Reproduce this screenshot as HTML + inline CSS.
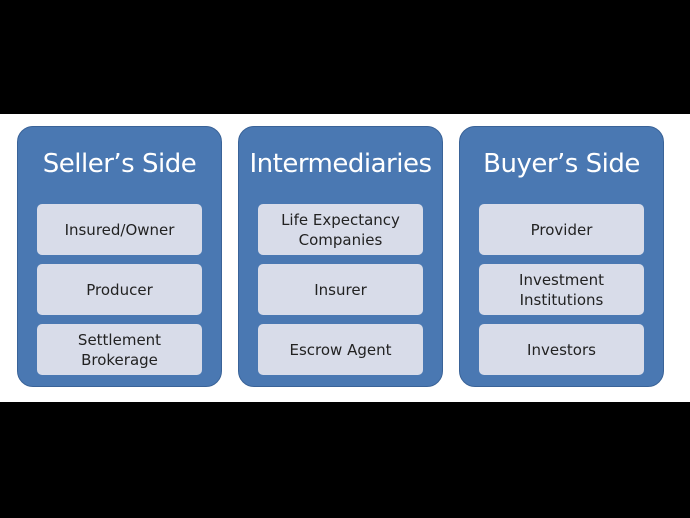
<!DOCTYPE html>
<html><head><style>
body{margin:0;width:690px;height:518px;background:#000;position:relative;overflow:hidden;font-family:"DejaVu Sans","Liberation Sans",sans-serif}
.band{position:absolute;left:0;top:114px;width:690px;height:288px;background:#fff}
.p{position:absolute;top:126px;width:203px;height:259px;background:#4a78b2;border:1px solid #3a6398;border-radius:16px}
.t{position:absolute;top:22px;left:0;width:100%;text-align:center;color:#fff;font-size:26px;letter-spacing:-0.5px}
.b{position:absolute;left:19px;width:165px;height:51px;background:#d8dce9;border-radius:5px;display:flex;align-items:center;justify-content:center;text-align:center;color:#222;font-size:15px;line-height:20px}
</style></head><body>
<div class="band"></div>
<div class="p" style="left:17px"><div class="t">Seller’s Side</div>
<div class="b" style="top:77px">Insured/Owner</div>
<div class="b" style="top:137px">Producer</div>
<div class="b" style="top:197px">Settlement<br>Brokerage</div></div>
<div class="p" style="left:238px"><div class="t">Intermediaries</div>
<div class="b" style="top:77px">Life Expectancy<br>Companies</div>
<div class="b" style="top:137px">Insurer</div>
<div class="b" style="top:197px">Escrow Agent</div></div>
<div class="p" style="left:459px"><div class="t">Buyer’s Side</div>
<div class="b" style="top:77px">Provider</div>
<div class="b" style="top:137px">Investment<br>Institutions</div>
<div class="b" style="top:197px">Investors</div></div>
</body></html>
